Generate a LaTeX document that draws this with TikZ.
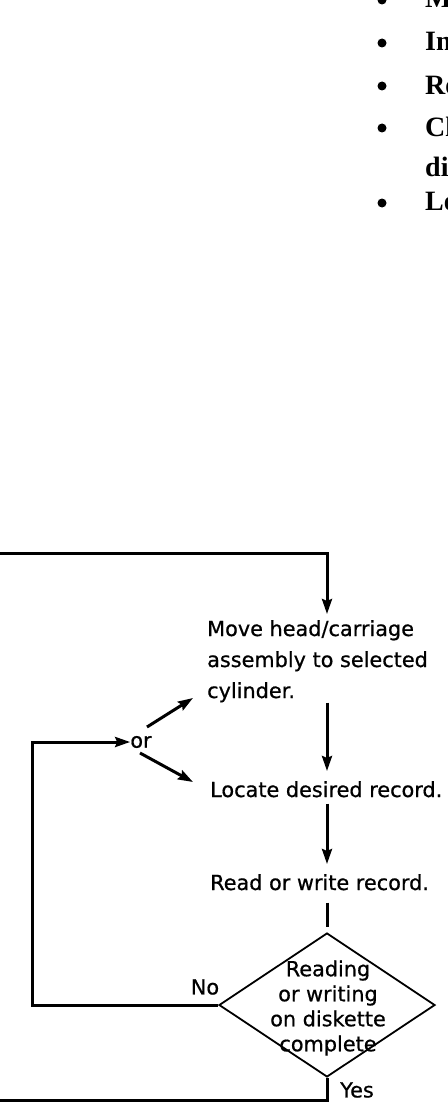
\documentclass[tikz,border=0pt]{standalone}
\usepackage{fontspec}
\setmainfont{DejaVu Sans}[FakeBold=0.7]
\newfontfamily\serifb{Liberation Serif}
\usetikzlibrary{arrows.meta,shapes.geometric,calc}
\begin{document}
\begin{tikzpicture}[x=1pt,y=-1pt,
  conn/.style={line width=3pt},
  arr/.style={conn,-{Stealth[length=15pt,width=10pt,inset=2pt]}},
  lbl/.style={inner sep=0pt,font=\fontsize{20.8}{31}\selectfont},
  bul/.style={inner sep=0pt,anchor=base west,font=\serifb\bfseries\fontsize{28}{34}\selectfont},
  dot/.style={fill=black}
]
\useasboundingbox (0,0) rectangle (447,1102);
\clip (0,0) rectangle (447,1102);
% bullet list (cut off at the right edge)
\fill[dot] (382,0) circle[radius=4.5pt];
\fill[dot] (382,43) circle[radius=4.5pt];
\fill[dot] (382,86) circle[radius=4.5pt];
\fill[dot] (382,128) circle[radius=4.5pt];
\fill[dot] (382,203) circle[radius=4.5pt];
\node[bul] (b1) at (425,8) {M};
\node[bul] (b2) at (425,51) {In};
\node[bul] (b3) at (425,95) {Re};
\node[bul] (b4) at (425,137) {Cl};
\node[bul] (b4b) at (425,176) {di};
\node[bul] (b5) at (425,211) {Lo};
% flowchart
\coordinate (ax) at (327,0);
\node[lbl, anchor=north west, align=left] (move) at (207,620) {Move head/carriage\\assembly to selected\\cylinder.};
\node[lbl, anchor=base west] (loc) at (210,797) {Locate desired record.};
\node[lbl, anchor=base west] (rw) at (210,890) {Read or write record.};
\node[draw, diamond, line width=1.8pt, minimum width=216pt, minimum height=144pt, inner sep=0pt] (dec) at (327,1005) {};
\node[lbl, align=center, font=\fontsize{20.8}{25}\selectfont] (dect) at (328,1008) {Reading\\or writing\\on diskette\\complete};
\node[lbl] (no) at (205,987) {No};
\node[lbl, anchor=west] (yes) at (340,1090) {Yes};
\node[lbl] (ornode) at (141,742) {or};
\coordinate (tl) at (0,553);
\coordinate (lx) at (32,1005);
\coordinate (bl) at (0,1100);
\coordinate (upt) at (193,698);
\coordinate (dnt) at (193,782);
\draw[arr, shorten >=6pt] (tl) -| (move.north -| ax);
\draw[arr, shorten >=10pt] (move.south -| ax) -- (loc.north -| ax);
\draw[arr, shorten <=6pt, shorten >=10pt] (loc.south -| ax) -- (rw.north -| ax);
\draw[conn, shorten <=12pt, shorten >=5pt] (rw.south -| ax) -- (dec.north);
\draw[arr] (dec.west) -- (lx) |- (ornode.west);
\draw[arr] ($(ornode.center)+(6,-15)$) -- (upt);
\draw[arr] ($(ornode.center)+(-1,11)$) -- (dnt);
\draw[conn] (dec.south) |- (bl);
\end{tikzpicture}
\end{document}
